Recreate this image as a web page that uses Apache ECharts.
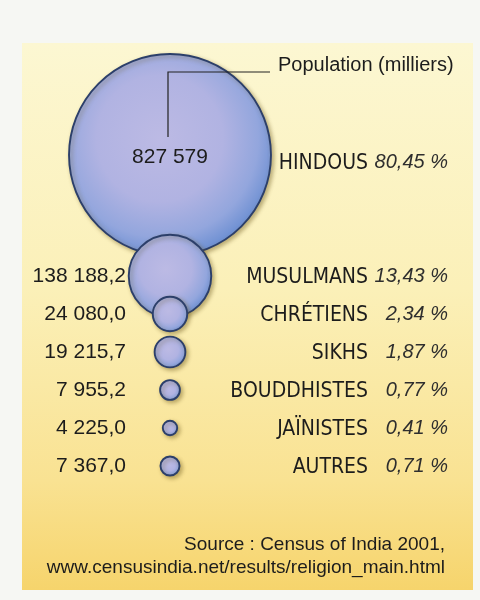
<!DOCTYPE html>
<html><head><meta charset="utf-8">
<script src="https://cdn.jsdelivr.net/npm/echarts@6/dist/echarts.min.js"></script>
<style>html,body{margin:0;padding:0;background:#f6f7f3}#c{width:480px;height:600px}</style>
</head><body><div id="c"></div>
<script>
// ---- data ----
const religions = ['HINDOUS', 'MUSULMANS', 'CHRÉTIENS', 'SIKHS', 'BOUDDHISTES', 'JAÏNISTES', 'AUTRES'];
const populations = [827579, 138188.2, 24080.0, 19215.7, 7955.2, 4225.0, 7367.0]; // milliers
const percents = [80.45, 13.43, 2.34, 1.87, 0.77, 0.41, 0.71];
const populationDecimals = [0, 1, 1, 1, 1, 1, 1];
const unitLabel = 'Population (milliers)';
const sourceLines = ['Source : Census of India 2001,', 'www.censusindia.net/results/religion_main.html'];

// ---- helpers ----
function frNum(v, d) {
  const s = v.toFixed(d).split('.');
  const int = s[0].replace(/\B(?=(\d{3})+(?!\d))/g, ' ');
  return d > 0 ? int + ',' + s[1] : int;
}
const popText = {}; const pctText = {};
religions.forEach((r, i) => { popText[r] = frNum(populations[i], populationDecimals[i]); pctText[r] = frNum(percents[i], 2) + ' %'; });

// axis rows: two empty spacer rows after the largest bubble (layout only)
const rows = [religions[0], ' ', '  '].concat(religions.slice(1));

const NARROW = "'DejaVu Sans Condensed', 'Liberation Sans Narrow', Roboto, sans-serif";
const TXT = '#1c1c1c';
const K = 0.222;
const fill = new echarts.graphic.RadialGradient(0.45, 0.42, 0.62, [
  { offset: 0, color: '#bcbae4' },
  { offset: 0.5, color: '#b1b3e2' },
  { offset: 0.78, color: '#93a6dd' },
  { offset: 1, color: '#6289cf' }
]);

const data = religions.map((r, i) => {
  const item = { value: [0, r], name: r };
  if (i === 0) {
    item.symbolOffset = [0, -7];
    item.label = { show: true, position: 'inside', formatter: () => popText[r],
      fontFamily: 'Liberation Sans', fontSize: 21, color: TXT, offset: [0, 2] };
  }
  return item;
});

const chart = echarts.init(document.getElementById('c'), null, { renderer: 'canvas' });
chart.setOption({
  backgroundColor: '#f6f7f3',
  animation: false,
  graphic: [
    { type: 'rect', z: -10, shape: { x: 22, y: 43, width: 451, height: 547 },
      style: { fill: new echarts.graphic.LinearGradient(0, 0, 0, 1, [
        { offset: 0, color: '#fcf7d2' },
        { offset: 0.45, color: '#fbf0b8' },
        { offset: 0.8, color: '#f9e292' },
        { offset: 1, color: '#f6d46c' }
      ]) } },
    { type: 'polyline', z: 100, shape: { points: [[168, 137], [168, 72], [270, 72]] },
      style: { stroke: '#222', lineWidth: 1.2, fill: null } },
    { type: 'text', z: 100, x: 278, y: 65, style: { text: unitLabel, fontFamily: 'Liberation Sans', fontSize: 20,
      fill: TXT, verticalAlign: 'middle', align: 'left' } },
    { type: 'text', z: 100, x: 445, y: 545, style: { text: sourceLines[0], fontFamily: 'Liberation Sans', fontSize: 19,
      fill: TXT, verticalAlign: 'middle', align: 'right' } },
    { type: 'text', z: 100, x: 445, y: 568, style: { text: sourceLines[1], fontFamily: 'Liberation Sans', fontSize: 19,
      fill: TXT, verticalAlign: 'middle', align: 'right' } }
  ],
  grid: { left: 140, right: 280, top: 143, bottom: 115 },
  xAxis: { type: 'value', min: -1, max: 1, show: false },
  yAxis: [
    { type: 'category', data: rows, inverse: true, position: 'left',
      axisLine: { show: false }, axisTick: { show: false }, splitLine: { show: false },
      axisLabel: { margin: 14, fontFamily: 'Liberation Sans', fontSize: 21, color: TXT,
        formatter: v => (v === religions[0] || !popText[v]) ? '' : popText[v] } },
    { type: 'category', data: rows, inverse: true, position: 'right',
      axisLine: { show: false }, axisTick: { show: false }, splitLine: { show: false },
      axisLabel: { margin: 8, formatter: v => popText[v] ? '{n|' + v + '}{p|' + pctText[v] + '}' : '',
        rich: {
          n: { width: 160, align: 'right', fontFamily: NARROW, fontSize: 21, lineHeight: 24, color: TXT, padding: [3, 0, 0, 0] },
          p: { width: 80, align: 'right', fontFamily: 'Liberation Sans', fontStyle: 'italic', fontSize: 20, lineHeight: 24, color: '#2e2e2e' }
        } } }
  ],
  series: [{
    type: 'scatter',
    data: data,
    symbol: 'circle',
    symbolSize: (val, params) => K * Math.sqrt(populations[params.dataIndex]),
    itemStyle: { color: fill, borderColor: '#2c3f6a', borderWidth: 1.9,
      shadowColor: 'rgba(110,90,30,0.45)', shadowBlur: 4, shadowOffsetX: 2, shadowOffsetY: 2, opacity: 1 },
    label: { show: false }
  }]
});
</script></body></html>
